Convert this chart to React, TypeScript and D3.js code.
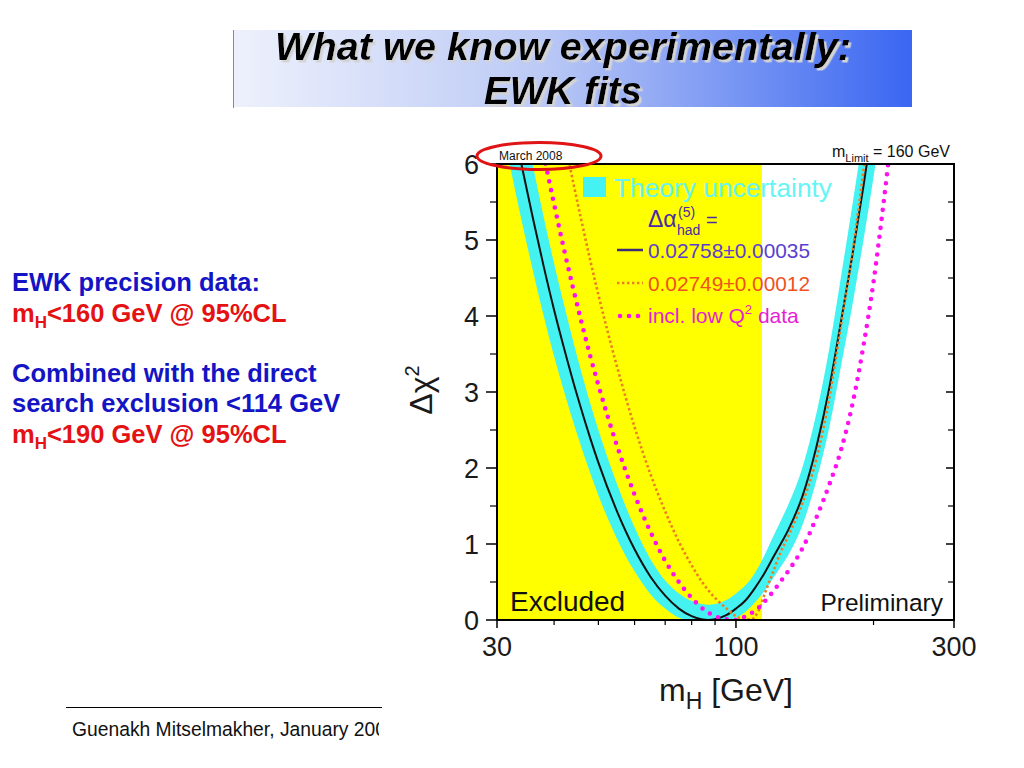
import React from 'react'
import * as d3 from 'd3'

// Higgs mass grid (GeV) shared by the fit curve and the theory band
const massGrid = [30, 32, 34, 36, 38, 40, 42, 45, 48, 50, 55, 60, 65, 70, 75, 80, 84, 87, 90, 95, 100, 105, 110, 115, 120, 125, 130, 140, 150, 160, 170, 180, 190, 200, 210]
const chi2Fit = [7.67, 6.77, 5.97, 5.27, 4.64, 4.08, 3.59, 2.94, 2.39, 2.07, 1.42, 0.93, 0.57, 0.32, 0.15, 0.05, 0.01, 0, 0.01, 0.06, 0.15, 0.26, 0.42, 0.6, 0.8, 0.99, 1.18, 1.64, 2.28, 3.05, 3.95, 4.82, 5.7, 6.6, 7.5]
const chi2BandLow = [6.84, 5.99, 5.24, 4.58, 3.99, 3.47, 3.02, 2.43, 1.93, 1.64, 1.06, 0.64, 0.34, 0.15, 0.03, 0, 0, 0, 0, 0, 0.03, 0.11, 0.23, 0.37, 0.53, 0.69, 0.85, 1.26, 1.84, 2.53, 3.36, 4.16, 4.99, 5.83, 6.68]
const chi2BandHigh = [8.5, 7.55, 6.7, 5.96, 5.29, 4.69, 4.16, 3.45, 2.85, 2.5, 1.78, 1.22, 0.8, 0.52, 0.35, 0.25, 0.21, 0.2, 0.21, 0.26, 0.35, 0.46, 0.62, 0.83, 1.07, 1.29, 1.51, 2.02, 2.72, 3.57, 4.54, 5.48, 6.41, 7.37, 8.32]

// 0.02749 +- 0.00012 (orange dotted)
const altMass = [40, 42, 44, 46, 48, 50, 55, 60, 65, 70, 75, 80, 85, 90, 95, 100, 104, 108, 112, 116, 120, 125, 130, 140, 150, 160, 170, 180, 190, 200]
const chi2Alt = [7.02, 6.36, 5.77, 5.23, 4.73, 4.28, 3.32, 2.54, 1.92, 1.43, 1.03, 0.72, 0.47, 0.29, 0.16, 0.05, 0.01, 0.01, 0.12, 0.37, 0.6, 0.88, 1.1, 1.55, 2.12, 2.92, 3.9, 4.85, 5.9, 7.0]

// incl. low Q^2 data (magenta dots)
const lowQ2Mass = [36, 38, 40, 42, 44, 46, 48, 50, 55, 60, 65, 70, 75, 80, 85, 90, 95, 100, 105, 110, 115, 120, 125, 130, 140, 150, 160, 170, 180, 190, 200, 210, 220, 230]
const chi2LowQ2 = [6.82, 6.11, 5.47, 4.89, 4.37, 3.9, 3.47, 3.09, 2.28, 1.65, 1.16, 0.78, 0.5, 0.29, 0.14, 0.05, 0.01, 0, 0.05, 0.12, 0.23, 0.36, 0.5, 0.64, 0.95, 1.35, 1.78, 2.25, 2.85, 3.6, 4.45, 5.45, 6.5, 7.6]

const excludedBelow = 114
const yTickLabels = [0, 1, 2, 3, 4, 5, 6]
const yMinorTicks = [0.5, 1.5, 2.5, 3.5, 4.5, 5.5]
const xTickLabels = [30, 100, 300]
const xMinorTicks = [40, 50, 60, 70, 80, 90, 200]

const FONT = 'Liberation Sans, Arial, Helvetica, sans-serif'

const frame = { left: 497, right: 954, top: 164, bottom: 620 }

const ALT_COLOR = '#ec7d22'
const LOWQ2_COLOR = '#ff10ee'
const BAND_COLOR = '#44f2f2'

export default function App() {
  const x = d3.scaleLog().domain([30, 300]).range([frame.left, frame.right])
  const y = d3.scaleLinear().domain([0, 6]).range([frame.bottom, frame.top])

  const line = d3
    .line<[number, number]>()
    .x((d) => x(d[0]))
    .y((d) => y(d[1]))
    .curve(d3.curveMonotoneX)

  const band = d3
    .area<[number, number, number]>()
    .x((d) => x(d[0]))
    .y0((d) => y(d[1]))
    .y1((d) => y(d[2]))
    .curve(d3.curveMonotoneX)

  const fitPath = line(massGrid.map((m, i) => [m, chi2Fit[i]])) as string
  const bandPath = band(massGrid.map((m, i) => [m, chi2BandLow[i], chi2BandHigh[i]])) as string
  const altPath = line(altMass.map((m, i) => [m, chi2Alt[i]])) as string
  const lowQ2Path = line(lowQ2Mass.map((m, i) => [m, chi2LowQ2[i]])) as string

  const plotW = frame.right - frame.left
  const plotH = frame.bottom - frame.top

  return (
    <svg width={1024} height={768} style={{ position: 'absolute', left: 0, top: 0, background: '#fff' }} fontFamily={FONT}>
      <defs>
        <linearGradient id="titleGrad" x1="0" x2="1" y1="0" y2="0">
          <stop offset="0%" stopColor="#eef1fc" />
          <stop offset="45%" stopColor="#bccaf5" />
          <stop offset="100%" stopColor="#3a66f2" />
        </linearGradient>
        <filter id="titleShadow" x="-5%" y="-20%" width="110%" height="140%">
          <feDropShadow dx={2.5} dy={2.5} stdDeviation={0.3} floodColor="#d4d4d4" floodOpacity={1} />
        </filter>
        <clipPath id="plotClip">
          <rect x={frame.left} y={frame.top} width={plotW} height={plotH} />
        </clipPath>
        <clipPath id="footClip">
          <rect x={0} y={710} width={379} height={50} />
        </clipPath>
      </defs>

      {/* title banner */}
      <rect x={233} y={30} width={679} height={77} fill="url(#titleGrad)" />
      <line x1={233.5} x2={233.5} y1={30} y2={108} stroke="#8a8a8a" strokeWidth={1} />
      <g filter="url(#titleShadow)" fontSize={38} fontWeight="bold" fontStyle="italic" fill="#000" textAnchor="middle">
        <text x={563} y={60} textLength={576} lengthAdjust="spacingAndGlyphs">
          What we know experimentally:
        </text>
        <text x={563} y={104} textLength={158} lengthAdjust="spacingAndGlyphs">
          EWK fits
        </text>
      </g>

      {/* left-hand notes */}
      <g fontSize={25.5} fontWeight="bold">
        <text x={12} y={291} fill="#1414c4">EWK precision data:</text>
        <text x={12} y={322} fill="#e41212">
          m<tspan fontSize={17} dy={6}>H</tspan>
          <tspan dy={-6}>&lt;160 GeV @ 95%CL</tspan>
        </text>
        <text x={12} y={382} fill="#1414c4">Combined with the direct</text>
        <text x={12} y={412} fill="#1414c4">search exclusion &lt;114 GeV</text>
        <text x={12} y={443} fill="#e41212">
          m<tspan fontSize={17} dy={6}>H</tspan>
          <tspan dy={-6}>&lt;190 GeV @ 95%CL</tspan>
        </text>
      </g>

      {/* plot body */}
      <g clipPath="url(#plotClip)">
        <rect x={frame.left} y={frame.top} width={x(excludedBelow) - frame.left} height={plotH} fill="#ffff00" />
        <path d={bandPath} fill={BAND_COLOR} />
        <path d={fitPath} fill="none" stroke="#111" strokeWidth={2} />
        <path d={altPath} fill="none" stroke={ALT_COLOR} strokeWidth={2.6} strokeDasharray="2.4 2.6" />
        <path d={lowQ2Path} fill="none" stroke={LOWQ2_COLOR} strokeWidth={4.6} strokeLinecap="round" strokeDasharray="0 9" />
      </g>

      {/* legend */}
      <rect x={583} y={177} width={23} height={20} fill={BAND_COLOR} />
      <text x={614} y={197} fontSize={25} fill="#66f4f4" textLength={218} lengthAdjust="spacingAndGlyphs">
        Theory uncertainty
      </text>
      <text x={648} y={227} fontSize={23} fill="#4a2aa8">
        Δα
      </text>
      <text x={678} y={217} fontSize={14} fill="#4a2aa8">(5)</text>
      <text x={677} y={235} fontSize={14} fill="#4a2aa8">had</text>
      <text x={706} y={227} fontSize={20} fill="#4a2aa8">=</text>
      <line x1={617} x2={643} y1={250} y2={250} stroke="#3c2a7a" strokeWidth={2.5} />
      <text x={648} y={258} fontSize={21} fill="#5a3ed0" textLength={162} lengthAdjust="spacingAndGlyphs">
        0.02758±0.00035
      </text>
      <line x1={617} x2={643} y1={283} y2={283} stroke={ALT_COLOR} strokeWidth={2.6} strokeDasharray="2.4 2.6" />
      <text x={648} y={291} fontSize={21} fill="#f0521e" textLength={162} lengthAdjust="spacingAndGlyphs">
        0.02749±0.00012
      </text>
      <line x1={620} x2={640} y1={316} y2={316} stroke={LOWQ2_COLOR} strokeWidth={4.6} strokeLinecap="round" strokeDasharray="0 9" />
      <text x={648} y={323} fontSize={21} fill="#e61ed2">
        incl. low Q<tspan fontSize={13} dy={-9}>2</tspan>
        <tspan dy={9}> data</tspan>
      </text>

      <text x={510} y={611} fontSize={28} fill="#111">Excluded</text>
      <text x={943} y={611} fontSize={24.5} fill="#111" textAnchor="end">Preliminary</text>

      {/* frame and ticks */}
      <rect x={frame.left} y={frame.top} width={plotW} height={plotH} fill="none" stroke="#000" strokeWidth={2} />
      {yTickLabels.map((v) => (
        <g key={'y' + v}>
          <line x1={frame.left - 11} x2={frame.left} y1={y(v)} y2={y(v)} stroke="#000" strokeWidth={1.5} />
          <line x1={frame.right - 8} x2={frame.right} y1={y(v)} y2={y(v)} stroke="#000" strokeWidth={1.5} />
          <text x={479} y={y(v) + 10} fontSize={27} textAnchor="end" fill="#1a1a1a">
            {v}
          </text>
        </g>
      ))}
      {yMinorTicks.map((v) => (
        <g key={'ym' + v}>
          <line x1={frame.left - 7} x2={frame.left} y1={y(v)} y2={y(v)} stroke="#000" strokeWidth={1.2} />
          <line x1={frame.right - 6} x2={frame.right} y1={y(v)} y2={y(v)} stroke="#000" strokeWidth={1.2} />
        </g>
      ))}
      {xTickLabels.map((v) => (
        <g key={'x' + v}>
          <line x1={x(v)} x2={x(v)} y1={frame.bottom} y2={frame.bottom + 8} stroke="#000" strokeWidth={1.5} />
          <text x={x(v)} y={656} fontSize={27} textAnchor="middle" fill="#1a1a1a">
            {v}
          </text>
        </g>
      ))}
      {xMinorTicks.map((v) => (
        <line key={'xm' + v} x1={x(v)} x2={x(v)} y1={frame.bottom} y2={frame.bottom + 5} stroke="#000" strokeWidth={1.2} />
      ))}

      {/* axis titles */}
      <text transform="translate(432,390) rotate(-90)" textAnchor="middle" fontSize={32} fill="#1a1a1a">
        Δχ<tspan fontSize={20} dy={-13}>2</tspan>
      </text>
      <text x={726} y={701} textAnchor="middle" fontSize={32} fill="#1a1a1a">
        m<tspan fontSize={23} dy={8}>H</tspan>
        <tspan dy={-8}> [GeV]</tspan>
      </text>

      {/* top annotations */}
      <text x={499} y={160} fontSize={12} fill="#111">March 2008</text>
      <text x={832} y={157} fontSize={16} fill="#111">
        m<tspan fontSize={11} dy={5}>Limit</tspan>
        <tspan dy={-5}> = 160 GeV</tspan>
      </text>
      <ellipse cx={539} cy={156} rx={62} ry={13.5} fill="none" stroke="#e01414" strokeWidth={3} />

      {/* footer */}
      <line x1={66} x2={382} y1={707.5} y2={707.5} stroke="#000" strokeWidth={1} />
      <text x={72} y={736} fontSize={19.3} fill="#111" clipPath="url(#footClip)">
        Guenakh Mitselmakher, January 2008
      </text>
    </svg>
  )
}
